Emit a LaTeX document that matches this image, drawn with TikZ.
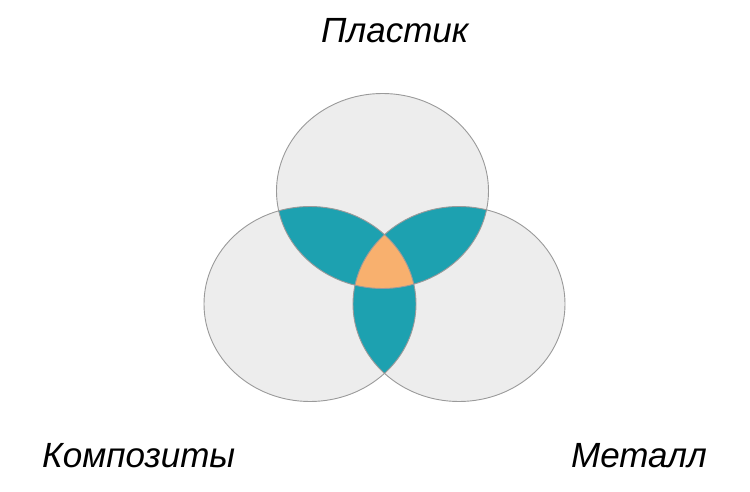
\documentclass[tikz,border=0pt]{standalone}
\usepackage{fontspec}
\setmainfont{Liberation Sans}
\usepackage{tikz}
\usepackage{xcolor}
\definecolor{VennGray}{HTML}{EDEDED}
\definecolor{VennLine}{HTML}{9A9A9A}
\definecolor{VennTeal}{HTML}{1DA1B0}
\definecolor{VennOrange}{HTML}{F8B06E}
\tikzset{
	set/.style = {
		x radius = 106pt,
		y radius = 97.5pt,
	},
	setname/.style = {
		font   = \fontsize{35}{40}\selectfont\itshape,
		anchor = base west,
		inner sep = 0pt,
	},
}

\begin{document}
\begin{tikzpicture}[x = 1pt, y = -1pt]
                    \useasboundingbox (0, 0) rectangle (750, 492);

                    \coordinate (P) at (382.5, 191);
                    \coordinate (K) at (310,   304);
                    \coordinate (M) at (459,   304);

                    % sets
                    \fill[VennGray]
                        (P) ellipse [set]
                        (K) ellipse [set]
                        (M) ellipse [set]
                    ;

                    % pairwise overlaps
                    \begin{scope}
                        \clip (P) ellipse [set];
                        \fill[VennTeal] (K) ellipse [set];
                        \fill[VennTeal] (M) ellipse [set];
                    \end{scope}
                    \begin{scope}
                        \clip (K) ellipse [set];
                        \fill[VennTeal] (M) ellipse [set];
                    \end{scope}

                    % all three
                    \begin{scope}
                        \clip (P) ellipse [set];
                        \clip (K) ellipse [set];
                        \fill[VennOrange] (M) ellipse [set];
                    \end{scope}

                    \draw[VennLine, line width = 0.9pt]
                        (P) ellipse [set]
                        (K) ellipse [set]
                        (M) ellipse [set]
                    ;

                    \node[setname] (plastik)    at (321, 43)  {Пластик};
                    \node[setname] (kompozity)  at (42,  467) {Композиты};
                    \node[setname] (metall)     at (571, 467) {Металл};
                \end{tikzpicture}
\end{document}
